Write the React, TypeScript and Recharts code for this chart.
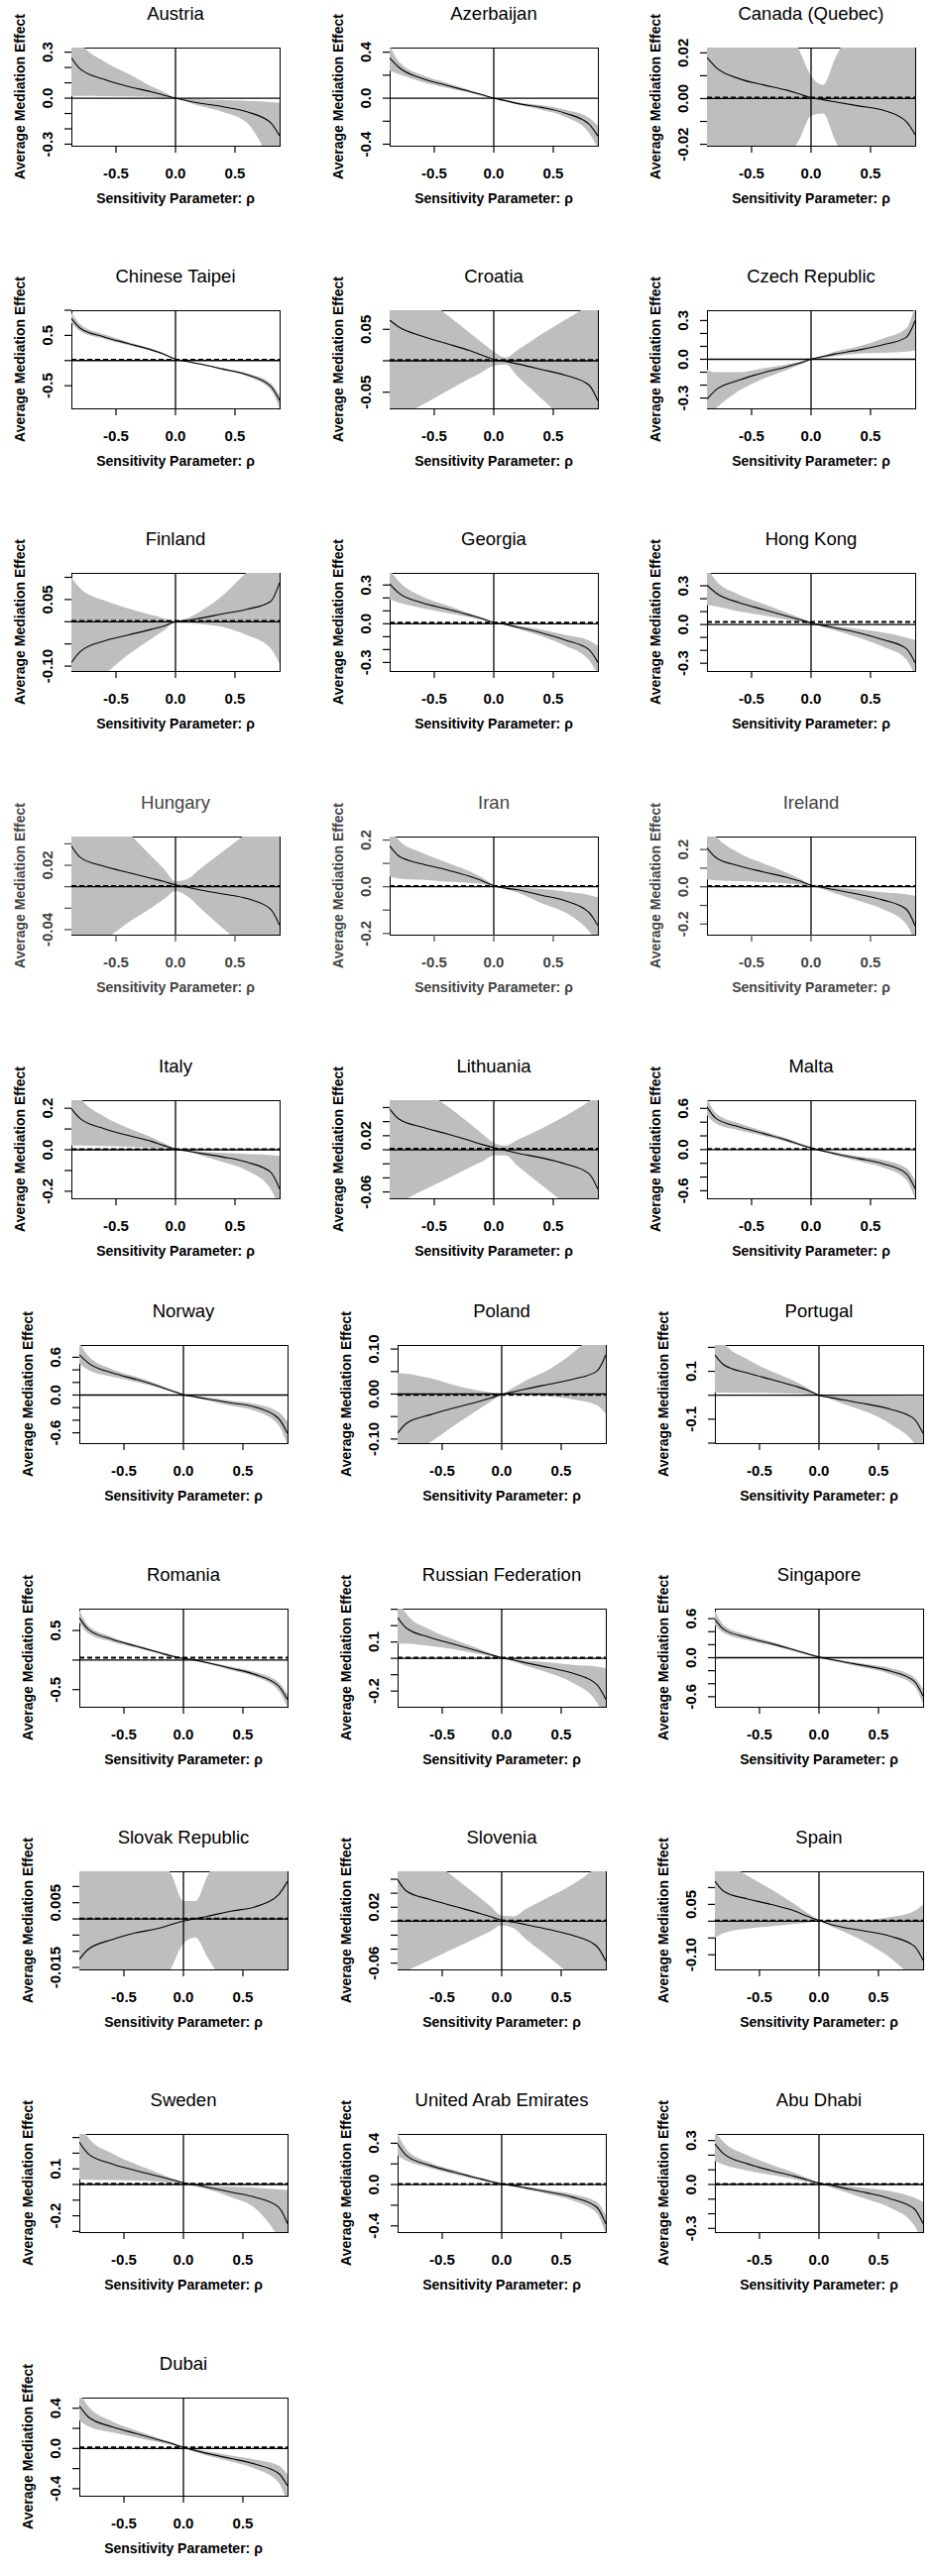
import { Area, ComposedChart, Line, ReferenceLine, XAxis, YAxis } from 'recharts';

// sensitivity parameter grid shared by every panel
const RHO = [-0.875, -0.8, -0.6, -0.4, -0.2, -0.1, 0, 0.1, 0.2, 0.4, 0.6, 0.8, 0.875];
const X_TICKS = [-0.5, 0, 0.5];

const COUNTRIES = [
  'Austria', 'Azerbaijan', 'Canada (Quebec)',
  'Chinese Taipei', 'Croatia', 'Czech Republic',
  'Finland', 'Georgia', 'Hong Kong',
  'Hungary', 'Iran', 'Ireland',
  'Italy', 'Lithuania', 'Malta',
  'Norway', 'Poland', 'Portugal',
  'Romania', 'Russian Federation', 'Singapore',
  'Slovak Republic', 'Slovenia', 'Spain',
  'Sweden', 'United Arab Emirates', 'Abu Dhabi',
  'Dubai',
];

// average mediation effect along rho
const EST = [
  [0.264, 0.19, 0.123, 0.076, 0.041, 0.02, 0, -0.017, -0.032, -0.056, -0.089, -0.16, -0.245],
  [0.35, 0.27, 0.17, 0.113, 0.058, 0.03, 0, -0.022, -0.046, -0.08, -0.13, -0.225, -0.33],
  [0.018, 0.0137, 0.0086, 0.006, 0.0036, 0.002, 0.0004, -0.0005, -0.0014, -0.0032, -0.005, -0.01, -0.0158],
  [0.835, 0.64, 0.47, 0.34, 0.21, 0.13, 0.03, -0.02, -0.065, -0.17, -0.28, -0.51, -0.79],
  [0.0646, 0.054, 0.039, 0.0275, 0.016, 0.009, 0.002, -0.001, -0.005, -0.0138, -0.023, -0.0386, -0.0635],
  [-0.309, -0.237, -0.16, -0.103, -0.057, -0.031, 0, 0.021, 0.041, 0.072, 0.111, 0.17, 0.3],
  [-0.092, -0.067, -0.0434, -0.03, -0.017, -0.01, 0, 0.003, 0.0075, 0.018, 0.028, 0.046, 0.088],
  [0.309, 0.24, 0.162, 0.116, 0.067, 0.041, 0.008, -0.005, -0.026, -0.07, -0.126, -0.2, -0.3],
  [0.304, 0.245, 0.168, 0.116, 0.064, 0.039, 0.013, -0.008, -0.026, -0.064, -0.116, -0.186, -0.296],
  [0.038, 0.0273, 0.019, 0.0133, 0.0078, 0.005, 0.0016, -0.0006, -0.0028, -0.0068, -0.011, -0.021, -0.036],
  [0.175, 0.132, 0.097, 0.073, 0.044, 0.026, 0.004, -0.006, -0.013, -0.036, -0.06, -0.11, -0.166],
  [0.21, 0.157, 0.112, 0.08, 0.05, 0.032, 0.009, -0.004, -0.016, -0.04, -0.07, -0.12, -0.21],
  [0.198, 0.15, 0.102, 0.069, 0.04, 0.021, 0.003, -0.006, -0.016, -0.035, -0.06, -0.108, -0.189],
  [0.058, 0.044, 0.032, 0.023, 0.013, 0.0076, 0.003, -0.001, -0.0048, -0.0114, -0.02, -0.034, -0.056],
  [0.624, 0.454, 0.33, 0.234, 0.137, 0.078, 0.024, -0.02, -0.059, -0.13, -0.205, -0.35, -0.57],
  [0.64, 0.51, 0.353, 0.25, 0.135, 0.068, 0.005, -0.03, -0.062, -0.125, -0.19, -0.374, -0.61],
  [-0.087, -0.065, -0.046, -0.031, -0.017, -0.0095, -0.001, 0.005, 0.011, 0.022, 0.033, 0.051, 0.087],
  [0.168, 0.127, 0.093, 0.066, 0.038, 0.022, 0, -0.01, -0.019, -0.037, -0.058, -0.099, -0.16],
  [0.717, 0.52, 0.35, 0.237, 0.124, 0.068, 0.028, 0, -0.045, -0.14, -0.243, -0.44, -0.667],
  [0.249, 0.184, 0.127, 0.086, 0.045, 0.024, 0.004, -0.01, -0.027, -0.057, -0.092, -0.16, -0.25],
  [0.59, 0.436, 0.308, 0.215, 0.113, 0.062, 0.01, -0.026, -0.062, -0.128, -0.205, -0.36, -0.59],
  [-0.0125, -0.0094, -0.0064, -0.0043, -0.0028, -0.0017, -0.0007, 0.0001, 0.0008, 0.0024, 0.0037, 0.0075, 0.0116],
  [0.0595, 0.043, 0.031, 0.0214, 0.012, 0.007, 0.0014, -0.0014, -0.0048, -0.012, -0.0205, -0.036, -0.057],
  [0.119, 0.089, 0.066, 0.0495, 0.03, 0.015, 0.002, -0.01, -0.018, -0.03, -0.045, -0.074, -0.116],
  [0.27, 0.196, 0.132, 0.089, 0.051, 0.032, 0.011, -0.002, -0.017, -0.049, -0.081, -0.145, -0.25],
  [0.394, 0.28, 0.184, 0.12, 0.061, 0.032, 0.006, -0.01, -0.032, -0.074, -0.123, -0.22, -0.38],
  [0.277, 0.209, 0.141, 0.095, 0.055, 0.032, 0.009, -0.005, -0.023, -0.057, -0.098, -0.166, -0.268],
  [0.423, 0.314, 0.215, 0.149, 0.083, 0.05, 0.01, -0.02, -0.05, -0.1, -0.155, -0.248, -0.37],
];

// lower edge of the confidence band
const LO = [
  [0.015, 0.015, 0.014, 0.012, 0.008, 0.004, -0.002, -0.025, -0.05, -0.09, -0.16, -0.4, -0.48],
  [0.24, 0.21, 0.14, 0.09, 0.045, 0.02, -0.005, -0.03, -0.055, -0.1, -0.16, -0.3, -0.43],
  [-0.09, -0.083, -0.064, -0.045, -0.0265, -0.018, -0.0075, -0.0065, -0.018, -0.037, -0.056, -0.075, -0.082],
  [0.75, 0.58, 0.43, 0.31, 0.19, 0.12, 0.02, -0.03, -0.075, -0.19, -0.31, -0.58, -0.95],
  [-0.1, -0.091, -0.07, -0.049, -0.028, -0.018, -0.008, -0.006, -0.025, -0.06, -0.095, -0.13, -0.143],
  [-0.45, -0.38, -0.24, -0.15, -0.08, -0.045, -0.005, 0.01, 0.025, 0.045, 0.05, 0.06, 0.07],
  [-0.2, -0.17, -0.12, -0.075, -0.038, -0.02, -0.002, -0.003, -0.005, -0.012, -0.03, -0.06, -0.095],
  [0.19, 0.165, 0.12, 0.085, 0.05, 0.03, 0.004, -0.012, -0.04, -0.095, -0.17, -0.28, -0.4],
  [0.15, 0.14, 0.1, 0.07, 0.038, 0.022, 0.005, -0.02, -0.045, -0.1, -0.17, -0.27, -0.4],
  [-0.07, -0.065, -0.05, -0.0335, -0.0195, -0.012, -0.004, -0.009, -0.019, -0.039, -0.058, -0.078, -0.085],
  [0.045, 0.035, 0.03, 0.022, 0.017, 0.012, 0.001, -0.01, -0.025, -0.07, -0.11, -0.19, -0.24],
  [0.04, 0.035, 0.03, 0.025, 0.018, 0.012, 0.002, -0.012, -0.035, -0.075, -0.12, -0.2, -0.3],
  [0.02, 0.02, 0.018, 0.015, 0.01, 0.007, 0.001, -0.01, -0.025, -0.06, -0.1, -0.19, -0.28],
  [-0.08, -0.075, -0.058, -0.042, -0.025, -0.017, -0.008, -0.008, -0.023, -0.05, -0.076, -0.1, -0.11],
  [0.5, 0.38, 0.28, 0.2, 0.11, 0.06, 0.01, -0.035, -0.08, -0.17, -0.26, -0.44, -0.72],
  [0.5, 0.4, 0.29, 0.21, 0.11, 0.055, -0.01, -0.045, -0.085, -0.17, -0.25, -0.48, -0.8],
  [-0.16, -0.14, -0.107, -0.07, -0.035, -0.018, -0.003, 0, -0.002, -0.005, -0.012, -0.025, -0.044],
  [0.012, 0.011, 0.01, 0.009, 0.007, 0.004, -0.001, -0.017, -0.035, -0.07, -0.12, -0.2, -0.26],
  [0.63, 0.45, 0.31, 0.21, 0.105, 0.05, 0.012, -0.018, -0.065, -0.17, -0.28, -0.52, -0.8],
  [0.09, 0.09, 0.075, 0.055, 0.028, 0.015, 0, -0.02, -0.045, -0.09, -0.15, -0.27, -0.38],
  [0.5, 0.38, 0.27, 0.19, 0.095, 0.045, -0.005, -0.045, -0.085, -0.16, -0.25, -0.43, -0.72],
  [-0.07, -0.065, -0.05, -0.036, -0.022, -0.015, -0.0076, -0.0057, -0.0117, -0.0237, -0.0357, -0.0477, -0.052],
  [-0.077, -0.071, -0.055, -0.039, -0.023, -0.015, -0.006, -0.01, -0.025, -0.052, -0.08, -0.108, -0.118],
  [-0.05, -0.035, -0.022, -0.015, -0.008, -0.004, 0, -0.015, -0.03, -0.065, -0.11, -0.18, -0.22],
  [0.035, 0.03, 0.028, 0.025, 0.018, 0.012, 0.003, -0.012, -0.03, -0.08, -0.15, -0.34, -0.45],
  [0.28, 0.23, 0.16, 0.1, 0.048, 0.022, -0.002, -0.02, -0.045, -0.095, -0.155, -0.28, -0.48],
  [0.16, 0.135, 0.095, 0.065, 0.035, 0.018, 0.003, -0.02, -0.045, -0.1, -0.16, -0.28, -0.4],
  [0.28, 0.22, 0.16, 0.11, 0.06, 0.035, 0, -0.035, -0.07, -0.13, -0.2, -0.34, -0.55],
];

// upper edge of the confidence band
const HI = [
  [0.45, 0.36, 0.24, 0.16, 0.076, 0.04, 0.003, -0.003, -0.008, -0.013, -0.018, -0.025, -0.03],
  [0.46, 0.32, 0.2, 0.135, 0.07, 0.038, 0.005, -0.012, -0.035, -0.06, -0.1, -0.17, -0.24],
  [0.098, 0.091, 0.072, 0.052, 0.033, 0.0213, 0.01, 0.006, 0.0173, 0.037, 0.057, 0.076, 0.084],
  [0.95, 0.72, 0.52, 0.37, 0.23, 0.145, 0.04, -0.01, -0.055, -0.15, -0.25, -0.45, -0.7],
  [0.143, 0.132, 0.103, 0.074, 0.044, 0.029, 0.0145, 0.005, 0.017, 0.042, 0.065, 0.088, 0.097],
  [-0.08, -0.1, -0.1, -0.07, -0.04, -0.02, 0.005, 0.03, 0.06, 0.1, 0.16, 0.24, 0.42],
  [0.1, 0.075, 0.048, 0.03, 0.015, 0.008, 0.001, 0.008, 0.022, 0.06, 0.112, 0.16, 0.18],
  [0.42, 0.33, 0.21, 0.145, 0.08, 0.048, 0.012, 0, -0.015, -0.045, -0.085, -0.13, -0.17],
  [0.45, 0.34, 0.23, 0.16, 0.09, 0.055, 0.02, 0.004, -0.01, -0.035, -0.06, -0.1, -0.12],
  [0.105, 0.096, 0.074, 0.051, 0.028, 0.017, 0.005, 0.007, 0.016, 0.033, 0.05, 0.068, 0.075],
  [0.25, 0.2, 0.145, 0.105, 0.065, 0.04, 0.008, -0.002, -0.005, -0.01, -0.02, -0.035, -0.045],
  [0.33, 0.27, 0.18, 0.125, 0.075, 0.045, 0.012, 0, -0.006, -0.015, -0.03, -0.04, -0.05],
  [0.32, 0.25, 0.16, 0.105, 0.06, 0.032, 0.006, -0.002, -0.008, -0.015, -0.02, -0.025, -0.03],
  [0.12, 0.11, 0.087, 0.063, 0.037, 0.023, 0.01, 0.006, 0.014, 0.03, 0.048, 0.069, 0.08],
  [0.75, 0.53, 0.38, 0.27, 0.16, 0.095, 0.04, -0.005, -0.04, -0.1, -0.15, -0.27, -0.45],
  [0.83, 0.62, 0.41, 0.29, 0.16, 0.085, 0.02, -0.015, -0.04, -0.09, -0.14, -0.27, -0.42],
  [0.047, 0.045, 0.035, 0.02, 0.008, 0.004, 0.001, 0.015, 0.03, 0.055, 0.092, 0.14, 0.16],
  [0.3, 0.22, 0.15, 0.1, 0.058, 0.032, 0.003, -0.002, -0.003, -0.003, -0.004, -0.005, -0.005],
  [0.85, 0.58, 0.39, 0.26, 0.145, 0.085, 0.045, 0.018, -0.025, -0.11, -0.2, -0.38, -0.58],
  [0.36, 0.27, 0.175, 0.115, 0.062, 0.033, 0.008, -0.003, -0.012, -0.025, -0.04, -0.05, -0.06],
  [0.72, 0.5, 0.35, 0.245, 0.135, 0.08, 0.025, -0.01, -0.04, -0.1, -0.16, -0.3, -0.48],
  [0.065, 0.06, 0.0466, 0.0328, 0.019, 0.0136, 0.0055, 0.0055, 0.0131, 0.025, 0.0364, 0.048, 0.052],
  [0.126, 0.116, 0.089, 0.063, 0.036, 0.022, 0.008, 0.007, 0.017, 0.035, 0.053, 0.078, 0.09],
  [0.2, 0.18, 0.135, 0.095, 0.05, 0.025, 0.004, -0.002, -0.002, 0.003, 0.012, 0.03, 0.05],
  [0.4, 0.3, 0.2, 0.13, 0.07, 0.04, 0.014, -0.001, -0.008, -0.015, -0.02, -0.03, -0.035],
  [0.5, 0.34, 0.21, 0.14, 0.072, 0.042, 0.014, 0, -0.02, -0.055, -0.095, -0.17, -0.3],
  [0.36, 0.29, 0.2, 0.135, 0.078, 0.045, 0.014, 0.004, -0.008, -0.025, -0.045, -0.09, -0.12],
  [0.55, 0.42, 0.27, 0.18, 0.1, 0.062, 0.02, -0.005, -0.03, -0.07, -0.11, -0.17, -0.26],
];

// estimated effect at rho = 0 (dashed line), null where it is hidden by the zero line
const ACME = [
  null, null, 0.0004, 0.015, 0.001, null, 0.0015, 0.008, 0.02, 0.0006, 0.003, 0.004, 0.003, 0.0015,
  0.01, null, -0.0015, null, 0.04, 0.004, null, 0.0001, 0.001, 0.002, 0.004, 0.006, 0.004, 0.01,
];

const Y_DOMAIN = [
  [-0.31, 0.33], [-0.413, 0.44], [-0.0206, 0.0223],
  [-0.95, 1.0], [-0.0757, 0.0804], [-0.38, 0.38],
  [-0.111, 0.11], [-0.366, 0.394], [-0.36, 0.4],
  [-0.0447, 0.0468], [-0.205, 0.215], [-0.257, 0.27],
  [-0.234, 0.239], [-0.069, 0.0705], [-0.71, 0.72],
  [-0.764, 0.795], [-0.109, 0.109], [-0.2, 0.21],
  [-0.79, 0.87], [-0.296, 0.304], [-0.754, 0.754],
  [-0.0156, 0.0147], [-0.069, 0.0714], [-0.1436, 0.1485],
  [-0.304, 0.323], [-0.46, 0.49], [-0.325, 0.345],
  [-0.47, 0.506],
];

const T3 = [-0.3, -0.2, -0.1, 0, 0.1, 0.2, 0.3];
const T4 = [-0.4, -0.2, 0, 0.2, 0.4];
const T2 = [-0.2, -0.1, 0, 0.1, 0.2];
const T6 = [-0.6, -0.4, -0.2, 0, 0.2, 0.4, 0.6];
const T06 = [-0.06, -0.04, -0.02, 0, 0.02, 0.04, 0.06];
const T10 = [-0.1, -0.05, 0, 0.05, 0.1];

const Y_TICKS = [
  T3, T4, [-0.02, -0.01, 0, 0.01, 0.02],
  [-0.5, 0, 0.5, 1], [-0.05, 0, 0.05], T3,
  T10, T3, T3,
  [-0.04, -0.02, 0, 0.02, 0.04], T2, T2,
  T2, T06, T6,
  T6, T10, T2,
  [-0.5, 0, 0.5], [-0.2, -0.1, 0, 0.1, 0.2, 0.3], T6,
  [-0.015, -0.01, -0.005, 0, 0.005, 0.01], T06, T10,
  T3, T4, T3,
  T4,
];

const Y_LABELS = [
  [-0.3, 0, 0.3], [-0.4, 0, 0.4], [-0.02, 0, 0.02],
  [-0.5, 0.5], [-0.05, 0.05], [-0.3, 0, 0.3],
  [-0.1, 0.05], [-0.3, 0, 0.3], [-0.3, 0, 0.3],
  [-0.04, 0.02], [-0.2, 0, 0.2], [-0.2, 0, 0.2],
  [-0.2, 0, 0.2], [-0.06, 0.02], [-0.6, 0, 0.6],
  [-0.6, 0, 0.6], [-0.1, 0, 0.1], [-0.1, 0.1],
  [-0.5, 0.5], [-0.2, 0.1], [-0.6, 0, 0.6],
  [-0.015, 0.005], [-0.06, 0.02], [-0.1, 0.05],
  [-0.2, 0.1], [-0.4, 0, 0.4], [-0.3, 0, 0.3],
  [-0.4, 0, 0.4],
];

const Y_DECIMALS = [1, 1, 2, 1, 2, 1, 2, 1, 1, 2, 1, 1, 1, 2, 1, 1, 2, 1, 1, 1, 1, 3, 2, 2, 1, 1, 1, 1];

// layout of the grid (plot box top-left corners)
const ROW_TOP = [48, 313, 578, 844, 1110, 1357, 1623, 1888, 2153, 2419];
const COL_LEFT = [[72, 393, 713], [80, 401, 721]];
const BOX_W = 210;
const BOX_H = 99;
const Y_AXIS_W = 72;
const X_AXIS_H = 65;
const TOP_PAD = 50;
const RIGHT_PAD = 6;
const FONT = '"Liberation Sans", Arial, Helvetica, sans-serif';

function Panel({ i }: { i: number }) {
  const row = Math.floor(i / 3);
  const left = COL_LEFT[row < 5 ? 0 : 1][i % 3];
  const top = ROW_TOP[row];
  const ink = i >= 9 && i <= 11 ? '#444' : '#000';
  const labels = Y_LABELS[i];
  const dec = Y_DECIMALS[i];
  const acme = ACME[i];
  const data = RHO.map((rho, k) => ({ rho, est: EST[i][k], band: [LO[i][k], HI[i][k]] }));

  const yTick = (p: any) => {
    const v = p.payload.value;
    if (!labels.some((l) => Math.abs(l - v) < 1e-9)) return <g />;
    const bx = Y_AXIS_W - 19;
    return (
      <text x={bx} y={p.y} transform={`rotate(-90 ${bx} ${p.y})`} textAnchor="middle" fill={ink}
        fontSize={15} fontWeight="bold" fontFamily={FONT}>
        {v.toFixed(dec)}
      </text>
    );
  };

  const xTick = (p: any) => (
    <text x={p.x} y={TOP_PAD + BOX_H + 33} textAnchor="middle" fill={ink} fontSize={15} fontWeight="bold" fontFamily={FONT}>
      {p.payload.value.toFixed(1)}
    </text>
  );

  const yLabel = () => {
    const cx = 20;
    const cy = TOP_PAD + BOX_H / 2;
    return (
      <text x={cx} y={cy} dy={5} transform={`rotate(-90 ${cx} ${cy})`} textAnchor="middle" fill={ink}
        fontSize={14} fontWeight="bold" fontFamily={FONT}>
        Average Mediation Effect
      </text>
    );
  };

  const xLabel = () => (
    <text x={Y_AXIS_W + BOX_W / 2} y={TOP_PAD + BOX_H + 58} textAnchor="middle" fill={ink}
      fontSize={14} fontWeight="bold" fontFamily={FONT}>
      Sensitivity Parameter: ρ
    </text>
  );

  return (
    <>
      <div style={{
        position: 'absolute', left, top: top - 45, width: BOX_W, height: 22, lineHeight: '22px',
        textAlign: 'center', fontFamily: FONT, fontSize: 18.5, color: ink, whiteSpace: 'nowrap',
      }}>
        {COUNTRIES[i]}
      </div>
      <div style={{
        position: 'absolute', left: left - 0.5, top: top - 0.5, width: BOX_W + 1, height: BOX_H + 1,
        border: '1px solid #000', boxSizing: 'border-box',
      }} />
      <div style={{ position: 'absolute', left: left - Y_AXIS_W, top: top - TOP_PAD }}>
        <ComposedChart width={Y_AXIS_W + BOX_W + RIGHT_PAD} height={TOP_PAD + BOX_H + X_AXIS_H} data={data}
          margin={{ top: TOP_PAD, right: RIGHT_PAD, bottom: 0, left: 0 }}>
          <XAxis dataKey="rho" type="number" domain={[-0.875, 0.875]} allowDataOverflow ticks={X_TICKS} interval={0}
            height={X_AXIS_H} axisLine={false} tickLine={{ stroke: ink, strokeWidth: 1.2 }} tickSize={7}
            tick={xTick} label={xLabel} />
          <YAxis type="number" domain={Y_DOMAIN[i]} allowDataOverflow ticks={Y_TICKS[i]} interval={0}
            width={Y_AXIS_W} axisLine={false} tickLine={{ stroke: ink, strokeWidth: 1.2 }} tickSize={7}
            tick={yTick} label={yLabel} />
          <Area dataKey="band" type="monotone" fill="#bebebe" fillOpacity={1} stroke="none" isAnimationActive={false} />
          <ReferenceLine x={0} stroke="#000" strokeWidth={1.3} />
          <ReferenceLine y={0} stroke="#000" strokeWidth={1.3} />
          {acme !== null && <ReferenceLine y={acme} stroke="#000" strokeWidth={2} strokeDasharray="5 3" />}
          <Line dataKey="est" type="monotone" stroke="#000" strokeWidth={1.1} dot={false} isAnimationActive={false} />
        </ComposedChart>
      </div>
    </>
  );
}

export default function App() {
  return (
    <div style={{ position: 'absolute', left: 0, top: 0, width: 942, height: 2599, background: '#fff', overflow: 'hidden' }}>
      {COUNTRIES.map((_, i) => <Panel key={i} i={i} />)}
    </div>
  );
}
